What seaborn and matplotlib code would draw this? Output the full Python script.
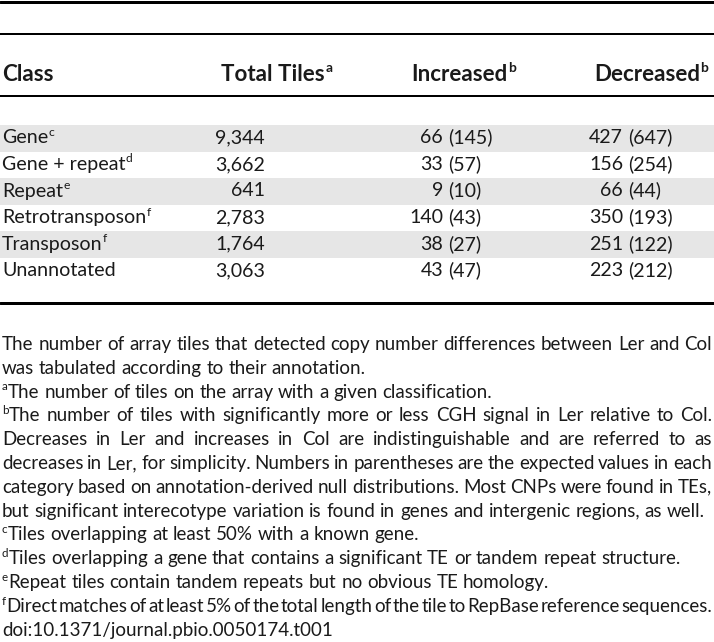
import matplotlib
matplotlib.use("Agg")
import matplotlib.pyplot as plt
import pandas as pd
import seaborn as sns

# table values (Table 1, copy number differences Ler vs Col)
classes = ["Gene", "Gene + repeat", "Repeat", "Retrotransposon", "Transposon", "Unannotated"]
class_notes = ["c", "d", "e", "f", "f", ""]
total_tiles = [9344, 3662, 641, 2783, 1764, 3063]
increased = [66, 33, 9, 140, 38, 43]
increased_expected = [145, 57, 10, 43, 27, 47]
decreased = [427, 156, 66, 350, 251, 223]
decreased_expected = [647, 254, 44, 193, 122, 212]
headers = ["Class", "Total Tiles", "Increased", "Decreased"]
header_notes = ["", "a", "b", "b"]
shaded_rows = [0, 2, 4]

# caption lines: (superscript, text, justified)
caption = [
    ("", "The number of array tiles that detected copy number differences between Ler and Col", True),
    ("", "was tabulated according to their annotation.", False),
    ("a", "The number of tiles on the array with a given classification.", False),
    ("b", "The number of tiles with significantly more or less CGH signal in Ler relative to Col.", True),
    ("", "Decreases in Ler and increases in Col are indistinguishable and are referred to as", True),
    ("", "decreases in Ler, for simplicity. Numbers in parentheses are the expected values in each", True),
    ("", "category based on annotation-derived null distributions. Most CNPs were found in TEs,", True),
    ("", "but significant interecotype variation is found in genes and intergenic regions, as well.", False),
    ("c", "Tiles overlapping at least 50% with a known gene.", False),
    ("d", "Tiles overlapping a gene that contains a significant TE or tandem repeat structure.", False),
    ("e", "Repeat tiles contain tandem repeats but no obvious TE homology.", False),
    ("f", "Direct matches of at least 5% of the total length of the tile to RepBase reference sequences.", True),
    ("", "doi:10.1371/journal.pbio.0050174.t001", False),
]

df = pd.DataFrame({
    "cls": classes, "note": class_notes, "total": total_tiles,
    "inc": increased, "inc_exp": increased_expected,
    "dec": decreased, "dec_exp": decreased_expected,
})

sns.set_theme(style="white")
plt.rcParams["font.family"] = ["Lato", "DejaVu Sans"]
INK = "#1a1a1a"
SHADE = "#e6e6e6"

W, H = 714, 642
fig = plt.figure(figsize=(W / 100, H / 100), dpi=100)
ax = fig.add_axes([0, 0, 1, 1])
ax.set_xlim(0, W)
ax.set_ylim(H, 0)
ax.axis("off")
renderer = fig.canvas.get_renderer()


def text_width(s, size, weight="normal"):
    t = ax.text(0, 0, s, fontsize=size, fontweight=weight)
    w = t.get_window_extent(renderer).width
    t.remove()
    return w


def put(x, y, s, size, weight="normal", sup="", ha="left"):
    ax.text(x, y, s, fontsize=size, fontweight=weight, ha=ha, va="baseline", color=INK)
    if sup:
        w = text_width(s, size, weight)
        x_end = x + w if ha == "left" else x
        ax.text(x_end + 0.5, y - size * 100 / 72 * 0.38, sup, fontsize=size * 0.62,
                fontweight=weight, ha="left", va="baseline", color=INK)


# font sizes fitted to the widths seen in the reference
cap_size = 12 * 702 / text_width(caption[7][1], 12)
tab_size = 12 * 113 / text_width("Unannotated", 12)
head_size = 12 * 51 / text_width("Class", 12, "bold")

# rules
for y, px in [(1.5, 3), (34, 2), (96, 2), (303, 3)]:
    ax.axhline(y, color="black", lw=px * 0.72)

# column anchors
x_class = 2
x_total_head, x_total = 221, 265
x_inc_head, x_inc = 411, 443
x_dec_head, x_dec = 594, 623

head_base = 81
put(x_class, head_base, headers[0], head_size, "bold")
put(x_total_head, head_base, headers[1], head_size, "bold", header_notes[1])
put(x_inc_head, head_base, headers[2], head_size, "bold", header_notes[2])
put(x_dec_head, head_base, headers[3], head_size, "bold", header_notes[3])

row_top, row_h = 125, 26.6
space = text_width("x x", tab_size) - text_width("xx", tab_size)
for i, r in df.iterrows():
    top = row_top + i * row_h
    if i in shaded_rows:
        ax.axhspan(top, top + row_h, color=SHADE, lw=0, zorder=0)
    base = top + row_h / 2 + 5
    put(x_class, base, r["cls"], tab_size, sup=r["note"])
    put(x_total, base, f"{r['total']:,}", tab_size, ha="right")
    put(x_inc, base, str(r["inc"]), tab_size, ha="right")
    put(x_inc + space, base, f"({r['inc_exp']})", tab_size)
    put(x_dec, base, str(r["dec"]), tab_size, ha="right")
    put(x_dec + space, base, f"({r['dec_exp']})", tab_size)

# caption with justified lines
cap_space = text_width("x x", cap_size) - text_width("xx", cap_size)
sup_size = cap_size * 0.62
x_right = 712
for k, (sup, line, justify) in enumerate(caption):
    base = 345 + k * 23.8 + 5
    x = 2
    if sup:
        ax.text(x, base - cap_size * 100 / 72 * 0.38, sup, fontsize=sup_size,
                ha="left", va="baseline", color=INK)
        x += text_width(sup, sup_size) + 0.3
    words = line.split(" ")
    widths = [text_width(w, cap_size) for w in words]
    gap = (x_right - x - sum(widths)) / (len(words) - 1) if justify else cap_space
    for w, wd in zip(words, widths):
        ax.text(x, base, w, fontsize=cap_size, ha="left", va="baseline", color=INK)
        x += wd + gap

fig.savefig("out.png", dpi=100)
